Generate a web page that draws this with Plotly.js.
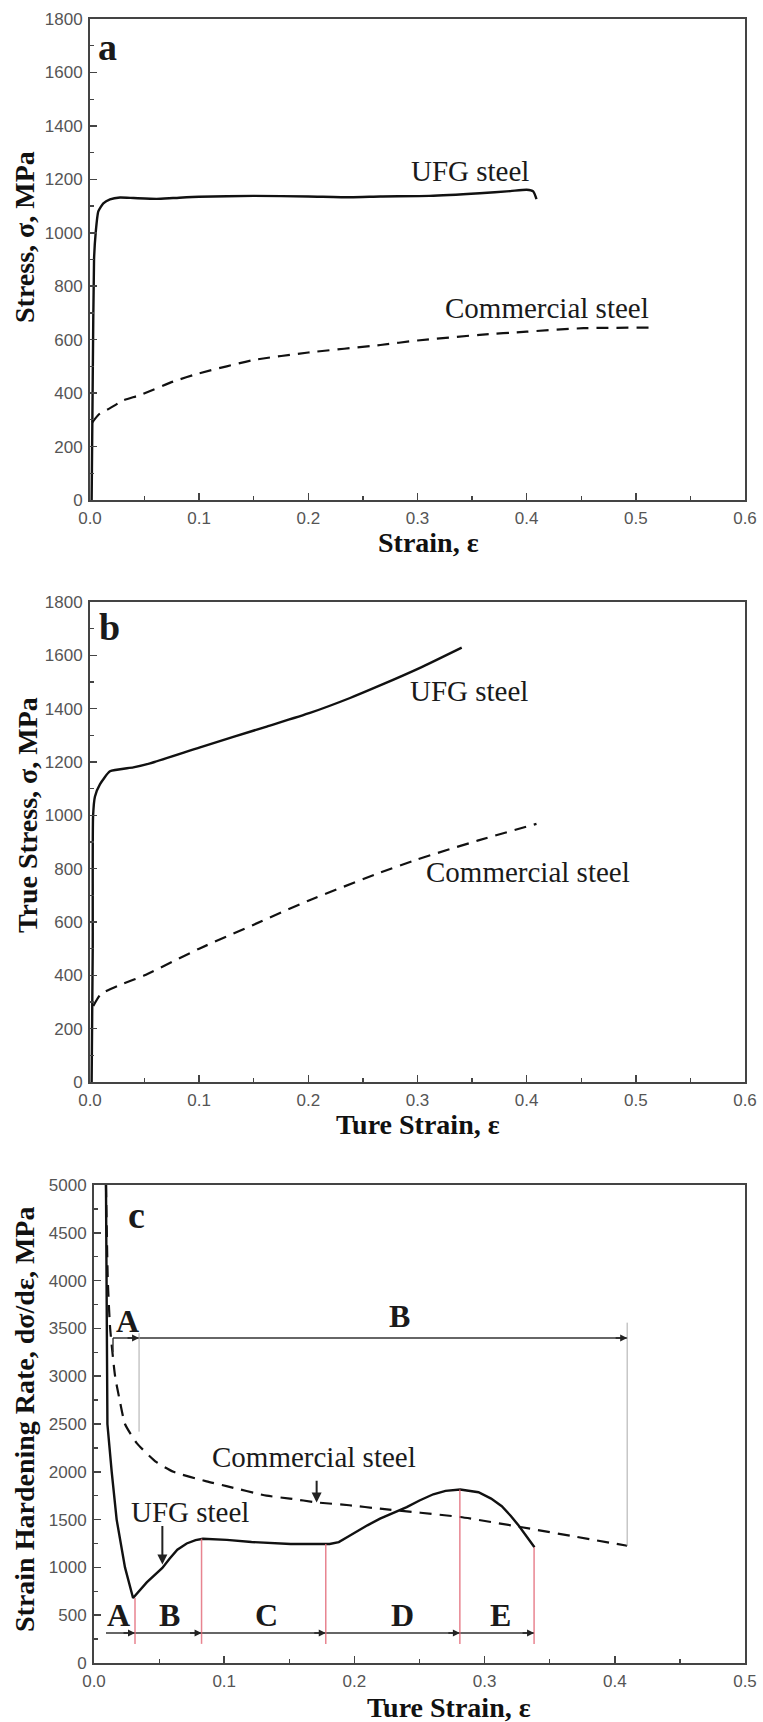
<!DOCTYPE html>
<html>
<head>
<meta charset="utf-8">
<script src="https://cdn.plot.ly/plotly-3.0.1.min.js"></script>
<style>html,body{margin:0;padding:0;background:#fff}</style>
</head>
<body>
<div id="chart" style="width:763px;height:1722px"></div>
<script>
// ---------- Panel a: engineering stress-strain ----------
const strainA_UFG = [0.0015, 0.0025, 0.0037, 0.0052, 0.0076, 0.0122, 0.0183, 0.0275, 0.040, 0.061, 0.076, 0.100, 0.150, 0.200, 0.239, 0.266, 0.311, 0.357, 0.385, 0.400, 0.406, 0.409];
const stressA_UFG = [0, 450, 900, 1000, 1080, 1110, 1125, 1132, 1130, 1127, 1130, 1135, 1138, 1136, 1133, 1136, 1138, 1148, 1156, 1161, 1155, 1126];
const strainA_Com = [0.002, 0.008, 0.018, 0.03, 0.046, 0.076, 0.1, 0.15, 0.2, 0.266, 0.3, 0.357, 0.4, 0.452, 0.5126];
const stressA_Com = [290, 320, 343, 372, 393, 443, 474, 524, 552, 580, 597, 618, 630, 643, 645];

// ---------- Panel b: true stress-strain ----------
const strainB_UFG = [0.0015, 0.0025, 0.0028, 0.0045, 0.0092, 0.0183, 0.0397, 0.055, 0.1008, 0.1619, 0.2015, 0.2382, 0.2657, 0.3023, 0.3405];
const stressB_UFG = [0, 500, 996, 1070, 1117, 1165, 1180, 1195, 1255, 1333, 1384, 1440, 1487, 1553, 1629];
const strainB_Com = [0.003, 0.01, 0.03, 0.05, 0.1, 0.15, 0.2, 0.2657, 0.3, 0.355, 0.409];
const stressB_Com = [285, 330, 368, 400, 500, 590, 680, 785, 835, 905, 968];

// ---------- Panel c: strain hardening rate ----------
const strainC_UFG = [0.0092, 0.0097, 0.0100, 0.0103, 0.0136, 0.0174, 0.0238, 0.0300, 0.0405, 0.0525, 0.058, 0.064, 0.0712, 0.078, 0.0837, 0.102, 0.121, 0.151, 0.181, 0.188, 0.195, 0.201, 0.210, 0.2197, 0.230, 0.2402, 0.250, 0.2606, 0.270, 0.2813, 0.2953, 0.305, 0.3132, 0.320, 0.326, 0.332, 0.3383];
const rateC_UFG = [5000, 4000, 3000, 2500, 2000, 1500, 1000, 680, 843, 994, 1090, 1185, 1250, 1285, 1300, 1288, 1266, 1245, 1245, 1265, 1320, 1370, 1440, 1510, 1570, 1630, 1700, 1765, 1800, 1815, 1786, 1720, 1640, 1540, 1440, 1330, 1210];
const strainC_Com = [0.0092, 0.0106, 0.0124, 0.0162, 0.0197, 0.0238, 0.0328, 0.048, 0.061, 0.0865, 0.1018, 0.1325, 0.1504, 0.171, 0.196, 0.2197, 0.2813, 0.3286, 0.4095];
const rateC_Com = [5000, 4000, 3500, 3000, 2750, 2500, 2300, 2100, 2000, 1900, 1850, 1750, 1720, 1680, 1650, 1614, 1527, 1420, 1226];

// stage boundaries (UFG) and curve values at those boundaries
const stageBounds = [0.0315, 0.0826, 0.178, 0.281, 0.338];
const stageTops = [680, 1300, 1245, 1815, 1210];
const stageLetters = ['A', 'B', 'C', 'D', 'E'];
const stageLetterX = [0.0188, 0.0577, 0.1326, 0.237, 0.312];
// commercial steel stages
const comBounds = [0.0146, 0.0346, 0.4095];

const W = 763, H = 1722;
const xd = (l, r) => [l / W, r / W];
const yd = (t, b) => [1 - b / H, 1 - t / H];

const tickFont = {family: 'Liberation Sans, Arial, sans-serif', size: 17, color: '#555'};
function axis(domain, range, dtick, minorDtick, anchor, fmt) {
  return {
    domain: domain, range: range, dtick: dtick, tick0: 0, anchor: anchor,
    ticks: 'inside', ticklen: 7, tickwidth: 1.5, tickcolor: '#444',
    showline: true, linecolor: '#444', linewidth: 2, mirror: true,
    showgrid: false, zeroline: false, tickfont: tickFont, tickformat: fmt,
    ticklabelstandoff: 2,
    minor: {ticks: 'inside', ticklen: 4, tickwidth: 1.2, tickcolor: '#444', dtick: minorDtick, showgrid: false}
  };
}

const solid = {color: '#111', width: 2.4, shape: 'spline', smoothing: 0.5};
const solidLin = {color: '#111', width: 2.4};
const dashed = {color: '#111', width: 2.2, dash: '12px,8px', shape: 'spline', smoothing: 0.5};

const traces = [
  {x: strainA_UFG, y: stressA_UFG, xaxis: 'x', yaxis: 'y', mode: 'lines', line: solid, name: 'UFG steel'},
  {x: strainA_Com, y: stressA_Com, xaxis: 'x', yaxis: 'y', mode: 'lines', line: dashed, name: 'Commercial steel'},
  {x: strainB_UFG, y: stressB_UFG, xaxis: 'x2', yaxis: 'y2', mode: 'lines', line: solid, name: 'UFG steel'},
  {x: strainB_Com, y: stressB_Com, xaxis: 'x2', yaxis: 'y2', mode: 'lines', line: dashed, name: 'Commercial steel'},
  {x: strainC_UFG, y: rateC_UFG, xaxis: 'x3', yaxis: 'y3', mode: 'lines', line: solidLin, name: 'UFG steel'},
  {x: strainC_Com, y: rateC_Com, xaxis: 'x3', yaxis: 'y3', mode: 'lines', line: dashed, name: 'Commercial steel'},
  // bracket lines in panel c
  {x: [comBounds[0], comBounds[2]], y: [3400, 3400], xaxis: 'x3', yaxis: 'y3', mode: 'lines', line: {color: '#333', width: 1.4}},
  {x: [strainC_UFG[0], stageBounds[4]], y: [314, 314], xaxis: 'x3', yaxis: 'y3', mode: 'lines', line: {color: '#333', width: 1.4}}
];

const serif = 'Liberation Serif, Times New Roman, serif';
function paperText(text, px, py, size, angle) {
  return {text: text, xref: 'paper', yref: 'paper', x: px / W, y: 1 - py / H, showarrow: false,
          textangle: angle || 0, xanchor: 'center', yanchor: 'middle',
          font: {family: serif, size: size, color: '#111'}};
}
function dataText(text, ax, x, y, size, bold) {
  return {text: bold ? '<b>' + text + '</b>' : text, xref: 'x' + ax, yref: 'y' + ax, x: x, y: y,
          showarrow: false, xanchor: 'center', yanchor: 'middle',
          font: {family: serif, size: size, color: '#1a1a1a'}};
}
function arrowHead(x, y, fromX, fromY, w) {
  return {text: '', xref: 'x3', yref: 'y3', axref: 'x3', ayref: 'y3', x: x, y: y, ax: fromX, ay: fromY,
          showarrow: true, arrowhead: 2, arrowsize: 1, arrowwidth: w || 1.4, arrowcolor: '#222'};
}

const annotations = [
  paperText('<b>Strain, ε</b>', 428, 543, 28, 0),
  paperText('<b>Ture Strain, ε</b>', 418, 1124, 28, 0),
  paperText('<b>Ture Strain, ε</b>', 449, 1707, 28, 0),
  paperText('<b>Stress, σ, MPa</b>', 25, 237, 28, -90),
  paperText('<b>True Stress, σ, MPa</b>', 27, 815, 28, -90),
  paperText('<b>Strain Hardening Rate, dσ/dε, MPa</b>', 24, 1420, 28, -90),
  dataText('a', '', 0.0156, 1695, 38, true),
  dataText('UFG steel', '', 0.348, 1230, 29, false),
  dataText('Commercial steel', '', 0.419, 718, 29, false),
  dataText('b', '2', 0.0183, 1706, 38, true),
  dataText('UFG steel', '2', 0.347, 1468, 29, false),
  dataText('Commercial steel', '2', 0.401, 787, 29, false),
  dataText('c', '3', 0.0328, 4689, 38, true),
  dataText('Commercial steel', '3', 0.169, 2160, 29, false),
  dataText('UFG steel', '3', 0.0737, 1577, 29, false),
  dataText('A', '3', 0.0257, 3577, 32, true),
  dataText('B', '3', 0.235, 3625, 32, true),
  arrowHead(0.171, 1680, 0.171, 1923, 2),
  arrowHead(0.0525, 1030, 0.0525, 1448, 2),
  arrowHead(comBounds[1], 3400, comBounds[1] - 0.01, 3400),
  arrowHead(comBounds[2], 3400, comBounds[2] - 0.01, 3400)
];
stageBounds.forEach(function (b) { annotations.push(arrowHead(b, 314, b - 0.01, 314)); });
stageLetters.forEach(function (s, i) { annotations.push(dataText(s, '3', stageLetterX[i], 502, 32, true)); });

const shapes = [];
stageBounds.forEach(function (b, i) {
  shapes.push({type: 'line', xref: 'x3', yref: 'y3', x0: b, x1: b, y0: 200, y1: stageTops[i],
               line: {color: 'rgba(228,110,125,0.85)', width: 1.5}});
});
shapes.push({type: 'line', xref: 'x3', yref: 'y3', x0: comBounds[0], x1: comBounds[0], y0: 3250, y1: 3400, line: {color: '#333', width: 1.4}});
shapes.push({type: 'line', xref: 'x3', yref: 'y3', x0: comBounds[1], x1: comBounds[1], y0: 2420, y1: 3450, line: {color: '#aaa', width: 1}});
shapes.push({type: 'line', xref: 'x3', yref: 'y3', x0: comBounds[2], x1: comBounds[2], y0: 1226, y1: 3560, line: {color: '#aaa', width: 1}});

const layout = {
  width: W, height: H, margin: {l: 0, r: 0, t: 0, b: 0},
  paper_bgcolor: '#fff', plot_bgcolor: '#fff', showlegend: false,
  xaxis: axis(xd(90, 745), [0, 0.6], 0.1, 0.05, 'y', '.1f'),
  yaxis: axis(yd(19, 500), [0, 1800], 200, 100, 'x', 'd'),
  xaxis2: axis(xd(90, 745), [0, 0.6], 0.1, 0.05, 'y2', '.1f'),
  yaxis2: axis(yd(602, 1082), [0, 1800], 200, 100, 'x2', 'd'),
  xaxis3: axis(xd(94, 745), [0, 0.5], 0.1, 0.05, 'y3', '.1f'),
  yaxis3: axis(yd(1185, 1663), [0, 5000], 500, 250, 'x3', 'd'),
  annotations: annotations,
  shapes: shapes
};

Plotly.newPlot('chart', traces, layout, {staticPlot: true, displayModeBar: false});
</script>
</body>
</html>
